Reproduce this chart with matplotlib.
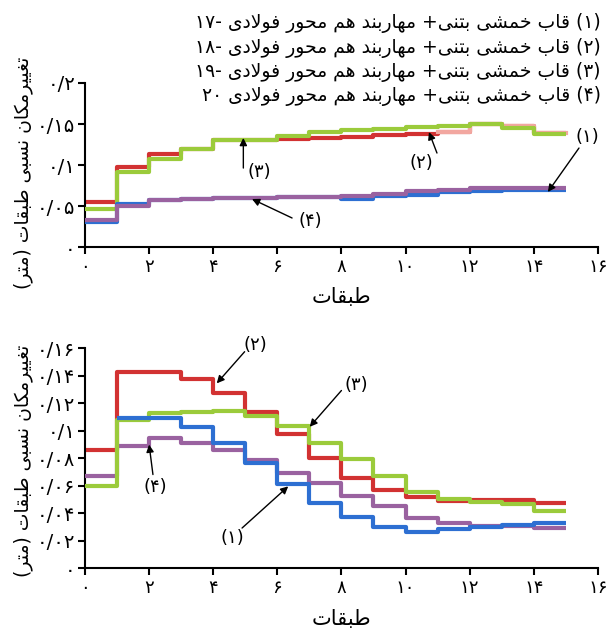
import numpy as np
import matplotlib
matplotlib.use("Agg")
import matplotlib.pyplot as plt

plt.rcParams['font.family'] = ['DejaVu Sans']

# ── data: drift per storey (storey k spans x = k-1 .. k) ──
stories = np.arange(0, 16)

top_red = [0.0545, 0.098, 0.113, 0.119, 0.130, 0.130, 0.1315, 0.1325, 0.134,
           0.136, 0.138, 0.140, 0.1505, 0.148, 0.1395]
top_green = [0.0467, 0.0919, 0.1073, 0.119, 0.130, 0.130, 0.135, 0.1398, 0.1425,
             0.1445, 0.1465, 0.147, 0.150, 0.1447, 0.1378]
top_blue = [0.031, 0.0527, 0.0568, 0.0585, 0.060, 0.060, 0.0605, 0.061, 0.0585,
            0.062, 0.064, 0.067, 0.0685, 0.069, 0.0695]
top_purple = [0.033, 0.0504, 0.0568, 0.0585, 0.060, 0.060, 0.0605, 0.061, 0.0625,
              0.065, 0.068, 0.070, 0.0715, 0.072, 0.0725]

bot_red = [0.0861, 0.1425, 0.1425, 0.1375, 0.1273, 0.1139, 0.0977, 0.080, 0.0659,
           0.057, 0.0516, 0.0492, 0.0497, 0.050, 0.0478]
bot_green = [0.0599, 0.1079, 0.1132, 0.114, 0.1147, 0.111, 0.1035, 0.0909, 0.0795,
             0.0672, 0.0553, 0.0505, 0.048, 0.047, 0.0419]
bot_blue = [np.nan, 0.1096, 0.109, 0.1025, 0.0909, 0.0764, 0.0613, 0.0478, 0.0371,
            0.0298, 0.0267, 0.0286, 0.0303, 0.0315, 0.0332]
bot_purple = [0.0672, 0.089, 0.0945, 0.0909, 0.0861, 0.079, 0.0696, 0.0618, 0.0526,
              0.0456, 0.0368, 0.0332, 0.031, 0.031, 0.0296]

x_ticks = [0, 2, 4, 6, 8, 10, 12, 14, 16]
x_ticklabels = ["۰", "۲", "۴", "۶", "۸", "۱۰", "۱۲", "۱۴", "۱۶"]
top_yticks = [0, 0.05, 0.1, 0.15, 0.2]
top_ylabels = ["۰", "۰/۰۵", "۰/۱", "۰/۱۵", "۰/۲"]
bot_yticks = [0, 0.02, 0.04, 0.06, 0.08, 0.1, 0.12, 0.14, 0.16]
bot_ylabels = ["۰", "۰/۰۲", "۰/۰۴", "۰/۰۶", "۰/۰۸", "۰/۱", "۰/۱۲", "۰/۱۴", "۰/۱۶"]

legend_lines = [
    "(۱) قاب خمشی بتنی+ مهاربند هم محور فولادی -۱۷",
    "(۲) قاب خمشی بتنی+ مهاربند هم محور فولادی -۱۸",
    "(۳) قاب خمشی بتنی+ مهاربند هم محور فولادی -۱۹",
    "(۴) قاب خمشی بتنی+ مهاربند هم محور فولادی ۲۰",
]
ylabel_txt = "تغییرمکان نسبی طبقات (متر)"
xlabel_txt = "طبقات"

RED, GREEN, BLUE, PURPLE = "#d23232", "#9bcb3b", "#2d6fd2", "#9a62a0"

# ── minimal Persian shaping (matplotlib has no RTL / joining support) ──
FORMS = {  # isolated, final, initial, medial
    'ا': ('\uFE8D', '\uFE8E', None, None),
    'ب': ('\uFE8F', '\uFE90', '\uFE91', '\uFE92'),
    'ت': ('\uFE95', '\uFE96', '\uFE97', '\uFE98'),
    'ح': ('\uFEA1', '\uFEA2', '\uFEA3', '\uFEA4'),
    'خ': ('\uFEA5', '\uFEA6', '\uFEA7', '\uFEA8'),
    'د': ('\uFEA9', '\uFEAA', None, None),
    'ر': ('\uFEAD', '\uFEAE', None, None),
    'س': ('\uFEB1', '\uFEB2', '\uFEB3', '\uFEB4'),
    'ش': ('\uFEB5', '\uFEB6', '\uFEB7', '\uFEB8'),
    'ط': ('\uFEC1', '\uFEC2', '\uFEC3', '\uFEC4'),
    'غ': ('\uFECD', '\uFECE', '\uFECF', '\uFED0'),
    'ف': ('\uFED1', '\uFED2', '\uFED3', '\uFED4'),
    'ق': ('\uFED5', '\uFED6', '\uFED7', '\uFED8'),
    'ک': ('\uFB8E', '\uFB8F', '\uFEDB', '\uFEDC'),
    'ل': ('\uFEDD', '\uFEDE', '\uFEDF', '\uFEE0'),
    'م': ('\uFEE1', '\uFEE2', '\uFEE3', '\uFEE4'),
    'ن': ('\uFEE5', '\uFEE6', '\uFEE7', '\uFEE8'),
    'ه': ('\uFEE9', '\uFEEA', '\uFEEB', '\uFEEC'),
    'و': ('\uFEED', '\uFEEE', None, None),
    'ی': ('\uFEEF', '\uFEF0', '\uFEF3', '\uFEF4'),
}
DIGITS = set("۰۱۲۳۴۵۶۷۸۹")


def joins_next(c):
    return c in FORMS and FORMS[c][2] is not None


def rtl(text):
    out = []
    n = len(text)
    i = 0
    while i < n:
        c = text[i]
        prev = text[i - 1] if i > 0 else ''
        jp = joins_next(prev)
        if c == 'ل' and i + 1 < n and text[i + 1] == 'ا':
            out.append('\uFEFC' if jp else '\uFEFB')
            i += 2
            continue
        if c in FORMS:
            nxt = text[i + 1] if i + 1 < n else ''
            jn = joins_next(c) and nxt in FORMS
            f = FORMS[c]
            if jp and jn:
                out.append(f[3])
            elif jp:
                out.append(f[1])
            elif jn:
                out.append(f[2])
            else:
                out.append(f[0])
        else:
            out.append(c)
        i += 1
    vis = out[::-1]
    swap = {'(': ')', ')': '('}
    vis = [swap.get(c, c) for c in vis]
    # digit runs stay left-to-right
    res, run = [], []
    for c in vis:
        if c in DIGITS:
            run.append(c)
        else:
            res.extend(run[::-1])
            run = []
            res.append(c)
    res.extend(run[::-1])
    return ''.join(res)


def stair(ax, vals, color, z, lw=3.0):
    y = list(vals) + [vals[-1]]
    ax.plot(stories, y, drawstyle='steps-post', color=color, lw=lw,
            zorder=z, solid_capstyle='butt')


def style_axes(ax, yticks, ylabels, ymax):
    ax.set_xlim(0, 16)
    ax.set_ylim(0, ymax)
    ax.set_xticks(x_ticks)
    ax.set_xticklabels(x_ticklabels, fontsize=13)
    ax.set_yticks(yticks)
    ax.set_yticklabels(ylabels, fontsize=14)
    for s in ("top", "right"):
        ax.spines[s].set_visible(False)
    for s in ("left", "bottom"):
        ax.spines[s].set_linewidth(1.5)
    ax.tick_params(axis='x', direction='out', length=5, width=1.5, pad=3)
    ax.tick_params(axis='y', direction='out', length=5, width=1.5, pad=2)
    ax.set_xlabel(rtl(xlabel_txt), fontsize=15, labelpad=8)


def note(ax, label, txy, start, end):
    ax.annotate("", xy=end, xytext=start,
                arrowprops=dict(arrowstyle='-|>', color='black', lw=1.0,
                                mutation_scale=11, shrinkA=0, shrinkB=0),
                zorder=10)
    ax.text(txy[0], txy[1], label, fontsize=13, ha='center', va='center',
            zorder=10)


fig = plt.figure(figsize=(6.07, 6.36), dpi=100)
ax1 = fig.add_axes([0.140, 0.6116, 0.845, 0.2579])
ax2 = fig.add_axes([0.140, 0.1064, 0.845, 0.3460])

# ── top chart ──
stair(ax1, top_red, RED, 2)
ax1.plot(stories[11:], top_red[11:] + [top_red[-1]], drawstyle='steps-post',
         color="#f2a7a0", lw=3.0, zorder=2.5)
stair(ax1, top_green, GREEN, 3)
stair(ax1, top_blue, BLUE, 4)
stair(ax1, top_purple, PURPLE, 5)
style_axes(ax1, top_yticks, top_ylabels, 0.2)

note(ax1, "(۳)", (5.43, 0.0915), (4.94, 0.0963), (4.94, 0.133))
note(ax1, "(۲)", (10.5, 0.102), (10.98, 0.1146), (10.73, 0.1402))
note(ax1, "(۱)", (15.66, 0.134), (15.41, 0.1207), (14.44, 0.0671))
note(ax1, "(۴)", (7.02, 0.032), (6.46, 0.0354), (5.21, 0.0585))

# ── bottom chart ──
stair(ax2, bot_red, RED, 2)
stair(ax2, bot_purple, PURPLE, 3)
stair(ax2, bot_green, GREEN, 4)
stair(ax2, bot_blue, BLUE, 5)
style_axes(ax2, bot_yticks, bot_ylabels, 0.16)

note(ax2, "(۲)", (5.32, 0.1624), (4.98, 0.1575), (4.11, 0.1345))
note(ax2, "(۳)", (8.45, 0.1333), (8.0, 0.1293), (7.01, 0.1029))
note(ax2, "(۴)", (2.18, 0.0593), (2.12, 0.0682), (2.0, 0.0900))
note(ax2, "(۱)", (4.59, 0.022), (4.9, 0.0293), (6.34, 0.0596))

# ── legend text block and y labels ──
for i, line in enumerate(legend_lines):
    fig.text(0.990, 1 - (23 + 24.5 * i) / 636, rtl(line), ha='right',
             va='center', fontsize=13.5)

fig.text(23 / 607, 1 - 173 / 636, rtl(ylabel_txt), rotation=90,
         ha='center', va='center', fontsize=13.5)
fig.text(23 / 607, 1 - 461 / 636, rtl(ylabel_txt), rotation=90,
         ha='center', va='center', fontsize=13.5)

fig.savefig("out.png", dpi=100)
